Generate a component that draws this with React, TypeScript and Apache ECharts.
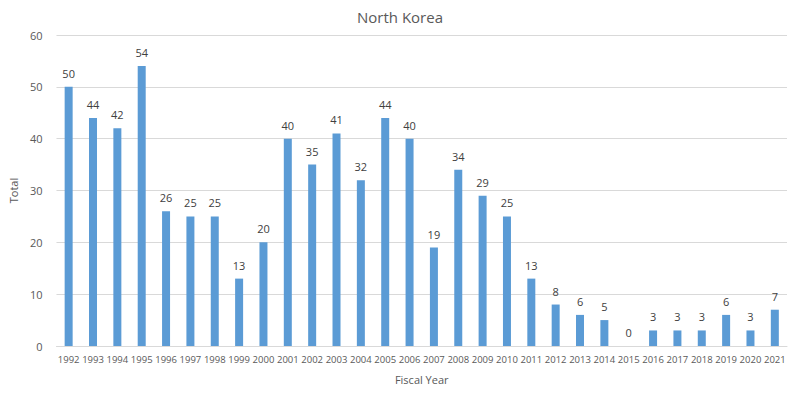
import React, { useEffect, useRef } from "react";
import * as echarts from "echarts";

const years = ["1992","1993","1994","1995","1996","1997","1998","1999","2000","2001","2002","2003","2004","2005","2006","2007","2008","2009","2010","2011","2012","2013","2014","2015","2016","2017","2018","2019","2020","2021"];
const totals = [50,44,42,54,26,25,25,13,20,40,35,41,32,44,40,19,34,29,25,13,8,6,5,0,3,3,3,6,3,7];
const yTicks = [0, 10, 20, 30, 40, 50, 60];

export default function App() {
  const ref = useRef<HTMLDivElement>(null);
  useEffect(() => {
    document.body.style.margin = "0";
    const chart = echarts.init(ref.current!, null, { renderer: "svg" });
    const font = "'Open Sans', 'Noto Sans', sans-serif";
    chart.setOption({
      animation: false,
      textStyle: { fontFamily: font },
      title: {
        text: "North Korea",
        left: "center",
        top: 4,
        textStyle: { fontFamily: font, fontSize: 15, fontWeight: "normal", color: "#595959" },
      },
      grid: { left: 48, right: 13, top: 35, bottom: 49 },
      xAxis: {
        type: "category",
        data: years,
        name: "Fiscal Year",
        nameLocation: "middle",
        nameGap: 28,
        nameTextStyle: { fontSize: 11, color: "#595959", fontFamily: font },
        axisLine: { lineStyle: { color: "#D9D9D9" } },
        axisTick: { show: false },
        axisLabel: { fontSize: 9.5, color: "#595959", interval: 0, margin: 8, fontFamily: font },
      },
      yAxis: {
        type: "value",
        min: yTicks[0],
        max: yTicks[yTicks.length - 1],
        interval: 10,
        name: "Total",
        nameLocation: "middle",
        nameGap: 26,
        nameTextStyle: { fontSize: 11, color: "#595959", fontFamily: font },
        axisLine: { show: false },
        axisTick: { show: false },
        axisLabel: { fontSize: 11, color: "#595959", margin: 14, fontFamily: font },
        splitLine: { lineStyle: { color: "#D9D9D9" } },
      },
      series: [
        {
          type: "bar",
          data: totals,
          barWidth: 8,
          itemStyle: { color: "#5B9BD5" },
          label: {
            show: true,
            position: "top",
            distance: 8,
            fontSize: 11,
            color: "#404040",
            fontFamily: font,
          },
        },
      ],
    });
    return () => chart.dispose();
  }, []);
  return <div ref={ref} style={{ width: 800, height: 395 }} />;
}
